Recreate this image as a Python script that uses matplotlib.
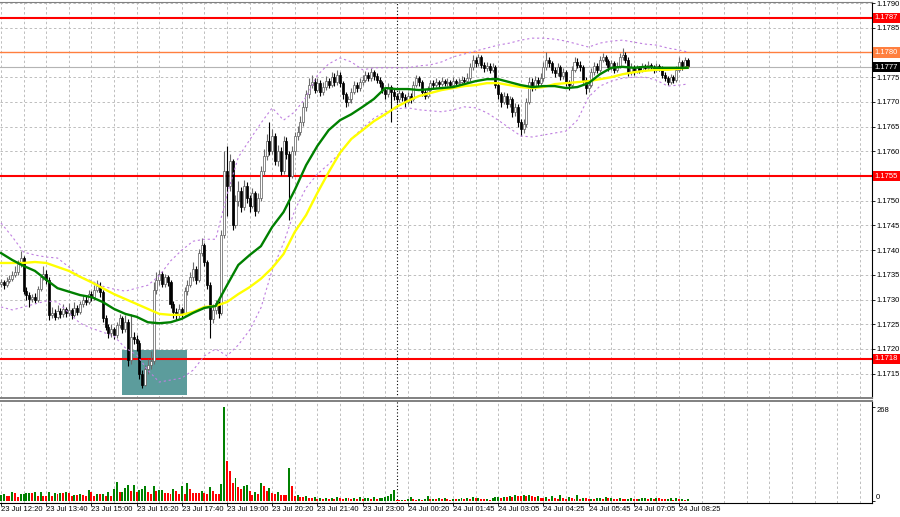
import matplotlib

matplotlib.use("Agg")
import matplotlib.pyplot as plt
import matplotlib.transforms as mtransforms
import numpy as np
import pandas as pd
from matplotlib.patches import Rectangle

plt.rcParams["font.family"] = ["Liberation Sans", "DejaVu Sans"]

BASE = 1.17  # candle prices below are points (1e-5) above 1.17000

FIRST_OPEN = 332
CLOSE = [
    335, 330, 338, 342, 350, 356, 372, 385, 318, 310,
    302, 306, 300, 322, 345, 352, 340, 268, 272, 265,
    276, 270, 280, 272, 278, 268, 282, 275, 290, 300,
    296, 312, 305, 320, 328, 315, 262, 245, 232, 240,
    228, 248, 262, 240, 255, 178, 225, 220, 212, 150,
    128, 160, 168, 175, 320, 340, 352, 332, 345, 335,
    290, 275, 268, 280, 272, 318, 330, 345, 362, 340,
    395, 410, 375, 330, 260, 278, 292, 272, 430, 560,
    530, 580, 450, 500, 520, 488, 530, 505, 490, 515,
    480, 505, 560, 590, 620, 600, 630, 580, 600, 560,
    620, 595, 550, 600, 630, 640, 660, 690, 715, 735,
    740, 725, 738, 720, 730, 742, 735, 750, 740, 755,
    738, 715, 700, 705, 720, 735, 728, 740, 745, 755,
    748, 760, 752, 745, 738, 725, 715, 730, 720, 712,
    705, 718, 710, 700, 712, 705, 735, 748, 740, 720,
    712, 725, 738, 735, 740, 736, 742, 738, 740, 735,
    742, 738, 740, 745, 742, 748, 770, 785, 778, 790,
    775, 768, 772, 765, 770, 735, 715, 700, 712, 695,
    705, 680, 690, 660, 645, 655, 700, 740, 730, 745,
    738, 748, 770, 785, 778, 765, 758, 770, 752, 760,
    740, 735, 765, 780, 775, 770, 745, 728, 735, 760,
    772, 765, 785, 790, 782, 770, 778, 765, 772, 790,
    795, 785, 760, 770, 762, 768, 765, 772, 768, 775,
    770, 765, 772, 768, 755, 748, 740, 750, 745, 765,
    780, 772, 785, 772,
]
HIGH = [
    342, 340, 345, 350, 358, 368, 380, 398, 388, 325,
    315, 312, 314, 328, 352, 368, 360, 345, 285, 280,
    288, 282, 290, 285, 292, 282, 295, 288, 298, 310,
    308, 320, 318, 330, 340, 335, 320, 268, 250, 250,
    245, 255, 270, 266, 268, 260, 270, 235, 228, 218,
    158, 168, 180, 195, 335, 355, 360, 358, 352, 350,
    340, 298, 282, 290, 285, 325, 340, 355, 375, 368,
    402, 425, 415, 380, 335, 290, 300, 298, 440, 600,
    610, 595, 585, 512, 540, 528, 542, 538, 512, 525,
    520, 515, 570, 605, 635, 660, 645, 638, 612, 608,
    630, 628, 600, 610, 640, 652, 672, 700, 725, 748,
    755, 748, 748, 745, 740, 752, 748, 760, 758, 765,
    760, 742, 720, 712, 728, 742, 740, 748, 755, 762,
    760, 768, 765, 758, 750, 742, 730, 738, 735, 726,
    718, 725, 722, 715, 720, 718, 742, 755, 752, 745,
    726, 732, 745, 744, 748, 745, 750, 746, 748, 745,
    750, 746, 748, 752, 750, 758, 778, 795, 790, 796,
    795, 780, 780, 778, 778, 775, 740, 720, 720, 718,
    712, 710, 698, 695, 665, 665, 708, 750, 748, 752,
    750, 758, 780, 800, 790, 782, 770, 778, 775, 768,
    765, 745, 772, 790, 788, 782, 775, 750, 742, 768,
    780, 778, 792, 798, 795, 786, 785, 782, 780, 798,
    810, 800, 790, 778, 775, 775, 772, 778, 776, 782,
    778, 775, 778, 776, 772, 760, 752, 756, 755, 772,
    790, 785, 790, 788,
]
LOW = [
    325, 322, 326, 334, 338, 345, 350, 365, 312, 300,
    285, 295, 292, 296, 318, 340, 332, 258, 262, 258,
    260, 262, 265, 265, 266, 260, 264, 268, 270, 285,
    288, 290, 298, 300, 315, 305, 255, 238, 222, 225,
    220, 222, 242, 232, 235, 165, 170, 210, 195, 140,
    121, 125, 150, 160, 170, 312, 330, 325, 326, 328,
    282, 262, 258, 262, 262, 268, 310, 325, 338, 332,
    336, 388, 368, 322, 222, 252, 270, 262, 268, 425,
    470, 520, 440, 445, 490, 478, 482, 495, 478, 485,
    470, 475, 500, 552, 582, 592, 595, 572, 570, 552,
    555, 585, 461, 545, 592, 622, 632, 652, 682, 708,
    728, 718, 720, 712, 714, 725, 728, 730, 732, 735,
    730, 705, 690, 692, 698, 715, 720, 722, 735, 740,
    742, 742, 745, 738, 730, 718, 705, 710, 660, 704,
    698, 700, 702, 690, 695, 698, 702, 730, 732, 712,
    705, 708, 720, 728, 730, 730, 732, 732, 733, 728,
    730, 732, 734, 735, 736, 738, 742, 765, 770, 772,
    768, 760, 762, 758, 760, 728, 705, 690, 695, 688,
    690, 670, 672, 650, 630, 638, 650, 695, 722, 725,
    730, 732, 742, 765, 770, 758, 750, 752, 745, 746,
    732, 725, 730, 760, 768, 762, 738, 715, 720, 730,
    755, 758, 760, 780, 775, 762, 765, 758, 760, 768,
    785, 778, 752, 755, 755, 758, 758, 760, 762, 764,
    764, 758, 760, 762, 748, 742, 735, 736, 738, 740,
    760, 765, 768, 768,
]
VOLUME = [
    16, 19, 14, 14, 25, 22, 12, 19, 20, 22,
    23, 22, 25, 14, 26, 14, 14, 25, 14, 24,
    19, 24, 22, 26, 24, 14, 17, 17, 21, 17,
    14, 30, 25, 14, 21, 19, 21, 14, 25, 13,
    33, 55, 25, 26, 38, 45, 28, 45, 25, 30,
    33, 42, 26, 21, 42, 28, 31, 32, 22, 22,
    21, 33, 28, 21, 42, 19, 52, 35, 24, 24,
    23, 28, 24, 21, 39, 28, 21, 21, 47, 268,
    113, 85, 52, 66, 39, 33, 42, 45, 28, 17,
    25, 19, 51, 42, 28, 38, 23, 21, 25, 16,
    16, 16, 94, 42, 14, 16, 12, 11, 13, 9,
    8, 11, 7, 9, 6, 8, 6, 9, 7, 10,
    8, 5, 9, 9, 6, 8, 5, 10, 7, 8,
    9, 6, 10, 7, 8, 9, 11, 14, 21, 30,
    3, 2, 4, 3, 5, 12, 6, 4, 5, 4,
    6, 13, 6, 7, 5, 8, 6, 9, 5, 4,
    6, 5, 7, 8, 6, 9, 7, 10, 8, 9,
    6, 5, 7, 4, 8, 10, 11, 9, 12, 10,
    14, 12, 16, 15, 13, 16, 14, 17, 15, 12,
    13, 9, 8, 11, 7, 14, 8, 6, 16, 9,
    7, 10, 8, 6, 16, 7, 9, 8, 6, 7,
    5, 8, 9, 7, 10, 8, 9, 7, 6, 8,
    7, 5, 7, 8, 6, 5, 7, 8, 9, 7,
    8, 6, 9, 8, 7, 5, 6, 8, 4, 9,
    6, 7, 4, 5,
]

# indicator readings taken every 4th bar, plus the last bar (same point units)
IND_BARS = list(range(0, 244, 4)) + [243]
MA_FAST = [
    394, 380, 368, 358, 340, 323, 316, 309, 305, 295,
    281, 271, 265, 254, 252, 254, 261, 273, 283, 287,
    329, 370, 390, 408, 447, 477, 522, 572, 611, 643,
    663, 675, 690, 706, 728, 726, 726, 724, 726, 728,
    730, 736, 742, 746, 746, 740, 734, 730, 732, 732,
    728, 730, 738, 756, 769, 771, 769, 771, 769, 769,
    769, 769,
]
MA_SLOW = [
    374, 374, 374, 376, 374, 366, 358, 346, 335, 323,
    311, 301, 291, 281, 271, 269, 269, 275, 285, 287,
    295, 311, 325, 342, 364, 392, 437, 471, 516, 558,
    597, 625, 643, 661, 675, 690, 702, 712, 718, 724,
    728, 732, 734, 738, 738, 734, 730, 728, 730, 736,
    738, 740, 742, 746, 750, 756, 760, 763, 765, 765,
    767, 769,
]
BAND_UPPER = [
    455, 427, 396, 390, 386, 384, 366, 346, 338, 327,
    321, 317, 323, 329, 348, 378, 400, 418, 422, 422,
    512, 588, 623, 657, 688, 663, 680, 710, 754, 777,
    789, 781, 765, 769, 769, 769, 769, 773, 775, 781,
    791, 797, 803, 809, 815, 819, 825, 829, 829, 827,
    823, 817, 811, 819, 823, 825, 821, 817, 815, 809,
    805, 801,
]
BAND_LOWER = [
    285, 279, 285, 291, 297, 295, 273, 252, 242, 234,
    226, 202, 188, 157, 133, 137, 141, 157, 186, 200,
    186, 208, 238, 283, 360, 414, 481, 526, 554, 574,
    597, 625, 647, 667, 680, 686, 688, 684, 682, 680,
    684, 690, 688, 678, 663, 647, 631, 629, 633, 637,
    641, 663, 710, 732, 742, 748, 750, 750, 744, 732,
    734, 736,
]

TIME_LABELS = [
    "23 Jul 12:20", "23 Jul 13:40", "23 Jul 15:00", "23 Jul 16:20",
    "23 Jul 17:40", "23 Jul 19:00", "23 Jul 20:20", "23 Jul 21:40",
    "23 Jul 23:00", "24 Jul 00:20", "24 Jul 01:45", "24 Jul 03:05",
    "24 Jul 04:25", "24 Jul 05:45", "24 Jul 07:05", "24 Jul 08:25",
]
LEVEL_PRICES = [1.1787, 1.1780, 1.1755, 1.1718]
LEVEL_COLORS = ["#ff0000", "#ff7f3f", "#ff0000", "#ff0000"]
LEVEL_WIDTHS = [1.5, 1.0, 1.5, 1.5]
BID_PRICE = 1.1777
DAY_START_BAR = 140
ZONE_BARS = (42.8, 65.8)
ZONE_PRICES = (1.17107, 1.17198)

X_RANGE = (-0.354, 308.3)
Y_RANGE = (1.171007, 1.179022)
VOL_RANGE = (-5.7, 284.2)

for series in (HIGH, LOW, VOLUME):
    assert len(series) == len(CLOSE)
for series in (MA_FAST, MA_SLOW, BAND_UPPER, BAND_LOWER):
    assert len(series) == len(IND_BARS)

df = pd.DataFrame({"close": CLOSE, "high": HIGH, "low": LOW})
df["open"] = [FIRST_OPEN] + CLOSE[:-1]
df = BASE + df / 1e5
bars = np.arange(len(df))
rising = (df["close"] >= df["open"]).to_numpy()

ind = pd.DataFrame(
    {"fast": MA_FAST, "slow": MA_SLOW, "upper": BAND_UPPER, "lower": BAND_LOWER},
    index=IND_BARS,
)
ind = BASE + ind / 1e5

volume = pd.Series(VOLUME)
vol_up = (volume.diff().fillna(1) > 0).to_numpy()

fig = plt.figure(figsize=(9, 5.17), dpi=100)
fig.patch.set_facecolor("white")
ax = fig.add_axes([0.0, 1 - 398 / 517, 872 / 900, 396 / 517])
ax_vol = fig.add_axes([0.0, 1 - 503 / 517, 872 / 900, 102 / 517])

grid_kw = dict(color="#bdbdbd", linestyle=(0, (2.5, 2.5)), linewidth=0.7)

# price pane
ax.set_xlim(*X_RANGE)
ax.set_ylim(*Y_RANGE)
ax.set_axisbelow(True)
ax.set_xticks(np.arange(0, 305, 8))
ax.tick_params(axis="x", length=0, labelbottom=False)
price_ticks = np.round(np.arange(1.1715, 1.17901, 0.0005), 4)
ax.yaxis.tick_right()
ax.set_yticks(price_ticks)
ax.set_yticklabels(
    ["" if p in LEVEL_PRICES else f"{p:.4f}" for p in price_ticks], fontsize=5.5
)
ax.tick_params(axis="y", length=2, width=0.6, pad=1, colors="black")
ax.grid(True, **grid_kw)

ax.add_patch(
    Rectangle(
        (ZONE_BARS[0], ZONE_PRICES[0]),
        ZONE_BARS[1] - ZONE_BARS[0],
        ZONE_PRICES[1] - ZONE_PRICES[0],
        facecolor="#5c9c9c",
        edgecolor="none",
        zorder=1,
    )
)

for price, color, width in zip(LEVEL_PRICES, LEVEL_COLORS, LEVEL_WIDTHS):
    ax.axhline(price, color=color, linewidth=width, zorder=2)
ax.axhline(BID_PRICE, color="#b4b4b4", linewidth=0.8, zorder=2)
ax.axvline(DAY_START_BAR, color="black", linestyle=(0, (1, 2)), linewidth=0.8, zorder=2)

band_kw = dict(color="#bf7fe0", linestyle=(0, (2, 2.5)), linewidth=0.8, zorder=5)
ax.plot(ind.index, ind["upper"], **band_kw)
ax.plot(ind.index, ind["lower"], **band_kw)

ax.vlines(bars[rising], df["low"][rising], df["high"][rising], color="#6a6a6a", linewidth=0.8, zorder=3)
ax.vlines(bars[~rising], df["low"][~rising], df["high"][~rising], color="black", linewidth=0.8, zorder=3)
body_low = np.minimum(df["open"], df["close"]).to_numpy()
body_h = np.maximum(np.abs(df["close"] - df["open"]).to_numpy(), 0.000012)
ax.bar(bars[rising], body_h[rising], bottom=body_low[rising], width=0.72,
       color="white", edgecolor="#5a5a5a", linewidth=0.5, zorder=4)
ax.bar(bars[~rising], body_h[~rising], bottom=body_low[~rising], width=0.72,
       color="black", edgecolor="black", linewidth=0.5, zorder=4)

ax.plot(ind.index, ind["slow"], color="#ffff00", linewidth=1.7, zorder=6)
ax.plot(ind.index, ind["fast"], color="#008000", linewidth=1.7, zorder=7)

label_tr = mtransforms.blended_transform_factory(ax.transAxes, ax.transData)
for price, color in zip(LEVEL_PRICES + [BID_PRICE], LEVEL_COLORS + ["black"]):
    ax.text(1.003, price, f"{price:.4f}", transform=label_tr, ha="left", va="center",
            fontsize=5.5, color="white", zorder=10, clip_on=False,
            bbox=dict(boxstyle="square,pad=0.22", facecolor=color, edgecolor="none"))

ax.spines["left"].set_visible(False)
ax.spines["right"].set_color("black")
ax.spines["top"].set_color("#808080")
ax.spines["bottom"].set_color("#808080")
ax.spines["bottom"].set_linewidth(1.4)

# volume pane
ax_vol.set_xlim(*X_RANGE)
ax_vol.set_ylim(*VOL_RANGE)
ax_vol.set_axisbelow(True)
ax_vol.bar(bars[vol_up], volume[vol_up], width=0.7, color="#008000", zorder=3)
ax_vol.bar(bars[~vol_up], volume[~vol_up], width=0.7, color="#ff0000", zorder=3)
ax_vol.axvline(DAY_START_BAR, color="black", linestyle=(0, (1, 2)), linewidth=0.8, zorder=2)
ax_vol.set_xticks(np.arange(0, 305, 8), minor=True)
ax_vol.set_xticks(np.arange(0, 241, 16))
ax_vol.set_xticklabels(TIME_LABELS, fontsize=5.5, ha="left")
ax_vol.tick_params(axis="x", which="major", length=2, width=0.6, pad=0.5)
ax_vol.tick_params(axis="x", which="minor", length=0)
ax_vol.grid(True, axis="x", which="both", **grid_kw)
ax_vol.yaxis.tick_right()
ax_vol.set_yticks([0, 268])
ax_vol.set_yticklabels(["0", "268"], fontsize=5.5)
ax_vol.get_yticklabels()[0].set_va("bottom")
ax_vol.get_yticklabels()[1].set_va("top")
ax_vol.tick_params(axis="y", length=2, width=0.6, pad=1)
ax_vol.spines["left"].set_visible(False)
ax_vol.spines["top"].set_color("#808080")
ax_vol.spines["top"].set_linewidth(1.4)

fig.savefig("out.png", dpi=100, facecolor="white")
